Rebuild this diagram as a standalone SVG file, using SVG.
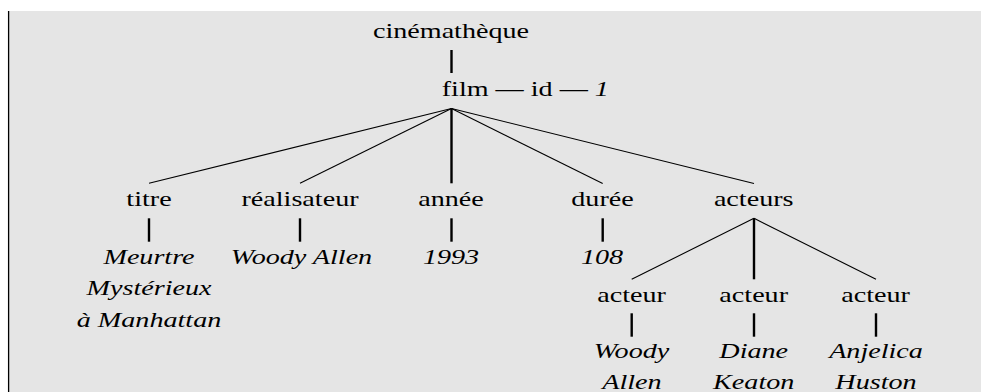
<svg xmlns="http://www.w3.org/2000/svg" width="981" height="392" viewBox="0 0 981 392">
<style>
.t{font-family:"Liberation Serif","Times New Roman",serif;font-size:21px;fill:#000;text-anchor:middle}
.s{text-anchor:start}
.i{font-style:italic}
.e{stroke:#000;fill:none;stroke-width:1.1}
.ev{stroke:#000;fill:none;stroke-width:2.4}
</style>
<rect x="8" y="11" width="973" height="381" fill="#e5e5e5"/>
<line x1="8.6" y1="11" x2="8.6" y2="392" stroke="#000" stroke-width="1.3"/>
<g id="connectors">
<line class="ev" x1="451.5" y1="50" x2="451.5" y2="73"/>
<line class="e" x1="451.5" y1="108.5" x2="149" y2="183.3"/>
<line class="e" x1="451.5" y1="108.5" x2="300" y2="183.3"/>
<line class="ev" x1="451.5" y1="108.5" x2="451.5" y2="183.3"/>
<line class="e" x1="451.5" y1="108.5" x2="602.7" y2="183.5"/>
<line class="e" x1="451.5" y1="108.5" x2="754" y2="183.5"/>
<line class="ev" x1="149" y1="218.3" x2="149" y2="241.7"/>
<line class="ev" x1="300" y1="218.3" x2="300" y2="241.7"/>
<line class="ev" x1="451.5" y1="218.3" x2="451.5" y2="241.7"/>
<line class="ev" x1="602.7" y1="218.3" x2="602.7" y2="241.7"/>
<line class="e" x1="754" y1="218.3" x2="631.7" y2="279.3"/>
<line class="ev" x1="754" y1="218.3" x2="754" y2="279.3"/>
<line class="e" x1="754" y1="218.3" x2="876" y2="279.3"/>
<line class="ev" x1="631.7" y1="313.3" x2="631.7" y2="336.7"/>
<line class="ev" x1="754" y1="313.3" x2="754" y2="336.7"/>
<line class="ev" x1="876" y1="313.3" x2="876" y2="336.7"/>
</g>
<g id="cinematheque"><text class="t" transform="translate(451 38) scale(1.34 1)">cinémathèque</text></g>
<g id="film"><text class="t s" transform="translate(441.7 96) scale(1.34 1)">film — id — <tspan class="i">1</tspan></text></g>
<g id="titre"><text class="t" transform="translate(149 206) scale(1.34 1)">titre</text></g>
<g id="realisateur"><text class="t" transform="translate(300 206) scale(1.34 1)">réalisateur</text></g>
<g id="annee"><text class="t" transform="translate(451 206) scale(1.34 1)">année</text></g>
<g id="duree"><text class="t" transform="translate(602.5 206) scale(1.34 1)">durée</text></g>
<g id="acteurs"><text class="t" transform="translate(753.7 206) scale(1.34 1)">acteurs</text></g>
<g id="titre-val">
<text class="t i" transform="translate(149 264) scale(1.34 1)">Meurtre</text>
<text class="t i" transform="translate(149 295) scale(1.34 1)">Mystérieux</text>
<text class="t i" transform="translate(149 326.5) scale(1.34 1)">à Manhattan</text>
</g>
<g id="realisateur-val"><text class="t i" transform="translate(301.5 264) scale(1.34 1)">Woody Allen</text></g>
<g id="annee-val"><text class="t i" transform="translate(451 264) scale(1.34 1)">1993</text></g>
<g id="duree-val"><text class="t i" transform="translate(602 264) scale(1.34 1)">108</text></g>
<g id="acteur1"><text class="t" transform="translate(631.5 301.7) scale(1.34 1)">acteur</text></g>
<g id="acteur2"><text class="t" transform="translate(753.7 301.7) scale(1.34 1)">acteur</text></g>
<g id="acteur3"><text class="t" transform="translate(875.5 301.7) scale(1.34 1)">acteur</text></g>
<g id="acteur1-val">
<text class="t i" transform="translate(631.5 358.3) scale(1.34 1)">Woody</text>
<text class="t i" transform="translate(632 389.3) scale(1.34 1)">Allen</text>
</g>
<g id="acteur2-val">
<text class="t i" transform="translate(753.7 358.3) scale(1.34 1)">Diane</text>
<text class="t i" transform="translate(753.7 389.3) scale(1.34 1)">Keaton</text>
</g>
<g id="acteur3-val">
<text class="t i" transform="translate(876 358.3) scale(1.34 1)">Anjelica</text>
<text class="t i" transform="translate(876 389.3) scale(1.34 1)">Huston</text>
</g>
</svg>
